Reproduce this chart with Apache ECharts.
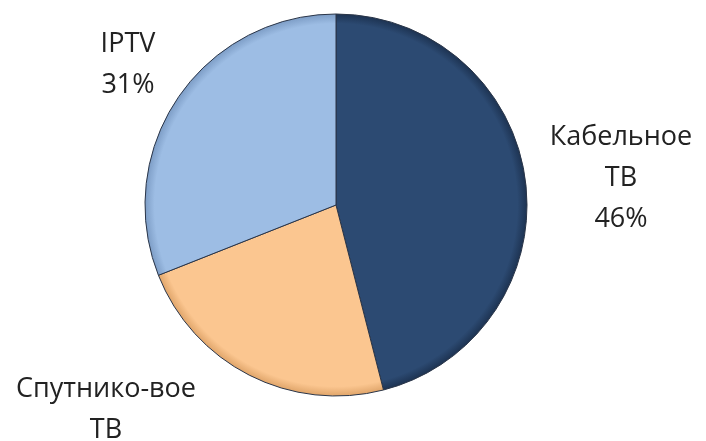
<!DOCTYPE html>
<html>
<head>
<meta charset="utf-8">
<script src="https://cdn.jsdelivr.net/npm/echarts@6/dist/echarts.min.js"></script>
<style>
  html, body { margin: 0; padding: 0; background: #fff; }
  #chart { width: 706px; height: 441px; }
</style>
</head>
<body>
<div id="chart"></div>
<script>
// данные
var categories = ['Кабельное\nТВ', 'Спутнико-вое\nТВ', 'IPTV']
var shares = [46, 23, 31]
var colors = ['#2c4a72', '#fbc690', '#9dbde4']
var edgeColors = ['#1d3352', '#e0a56a', '#7d9dc6']

// позиции подписей (центр блока текста)
var labelPos = [[621, 178], [106, 430], [128, 65]]

var myChart = echarts.init(document.getElementById('chart'))

var option = {
    backgroundColor: '#fff',
    animation: false,
    series: [{
        type: 'pie',
        center: [336, 205],
        radius: 191,
        startAngle: 90,
        clockwise: true,
        data: categories.map(function (name, i) {
            return {
                name: name,
                value: shares[i],
                itemStyle: {
                    color: {
                        type: 'radial', x: 336, y: 205, r: 191, global: true,
                        colorStops: [
                            {offset: 0, color: colors[i]},
                            {offset: 0.95, color: colors[i]},
                            {offset: 1, color: edgeColors[i]}
                        ]
                    }
                }
            }
        }),
        itemStyle: {
            borderColor: '#2a3548',
            borderWidth: 1
        },
        label: {
            show: true,
            position: 'outside',
            formatter: '{b}\n{d}%',
            fontFamily: 'Open Sans',
            fontSize: 27,
            lineHeight: 41,
            color: '#222',
            align: 'center',
            overflow: 'none'
        },
        labelLine: {show: false},
        labelLayout: function (params) {
            var p = labelPos[params.dataIndex]
            return {x: p[0], y: p[1], align: 'center', verticalAlign: 'middle'}
        }
    }]
}
myChart.setOption(option, true)
</script>
</body>
</html>
